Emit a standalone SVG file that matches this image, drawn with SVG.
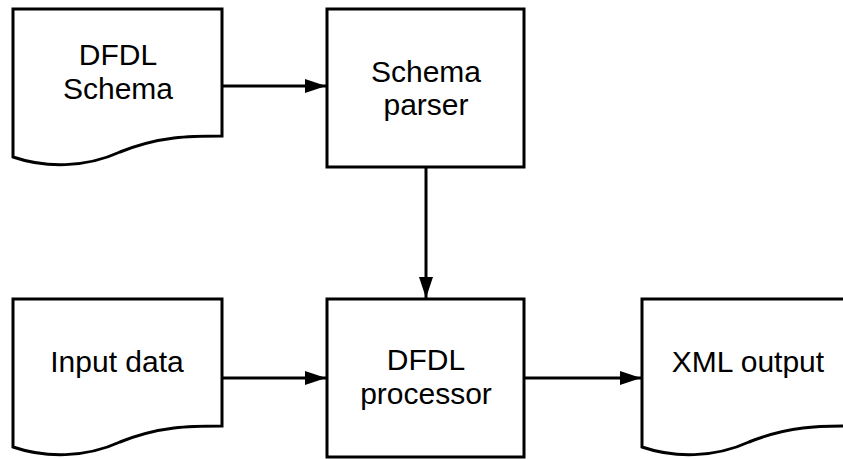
<svg xmlns="http://www.w3.org/2000/svg" width="843" height="459" viewBox="0 0 843 459">
<style>
.shape{fill:#fff;stroke:#000;stroke-width:3;stroke-linejoin:miter}
.edge{fill:none;stroke:#000;stroke-width:3}
.lbl{font-family:"Liberation Sans",Arial,sans-serif;font-size:30px;fill:#000;text-anchor:middle}
</style>
<defs>
<marker id="arr" markerUnits="userSpaceOnUse" markerWidth="22" markerHeight="16" refX="21" refY="7" orient="auto">
<polygon points="0,0 21,7 0,14" fill="#000"/>
</marker>
</defs>
<rect width="843" height="459" fill="#fff"/>
<g id="connectors">
<line class="edge" x1="222" y1="86" x2="326" y2="86" marker-end="url(#arr)"/>
<line class="edge" x1="426" y1="167" x2="426" y2="298" marker-end="url(#arr)"/>
<line class="edge" x1="222" y1="378" x2="326" y2="378" marker-end="url(#arr)"/>
<line class="edge" x1="524" y1="378" x2="641" y2="378" marker-end="url(#arr)"/>
</g>
<g id="dfdl-schema">
<path class="shape" d="M13,9 H222 V136 C190,136 160,136 120,152 C85,168 45,168 13,157 Z"/>
<text class="lbl" x="118" y="65">DFDL</text>
<text class="lbl" x="118" y="99">Schema</text>
</g>
<g id="schema-parser">
<rect class="shape" x="327" y="9" width="197" height="158"/>
<text class="lbl" x="426" y="82">Schema</text>
<text class="lbl" x="426" y="115">parser</text>
</g>
<g id="input-data">
<path class="shape" d="M13,299 H222 V426 C190,426 160,426 120,442 C85,458 45,458 13,447 Z"/>
<text class="lbl" x="117" y="372">Input data</text>
</g>
<g id="dfdl-processor">
<rect class="shape" x="327" y="299" width="197" height="158"/>
<text class="lbl" x="426" y="370">DFDL</text>
<text class="lbl" x="426" y="404">processor</text>
</g>
<g id="xml-output">
<path class="shape" d="M642,299 H851 V426 C819,426 789,426 749,442 C714,458 674,458 642,447 Z"/>
<text class="lbl" x="748" y="372">XML output</text>
</g>
</svg>
